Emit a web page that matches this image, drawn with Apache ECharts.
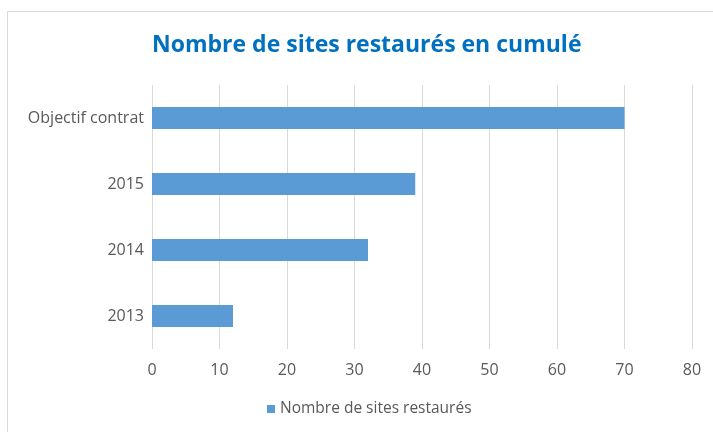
<!DOCTYPE html>
<html>
<head>
<meta charset="utf-8">
<script src="https://cdn.jsdelivr.net/npm/echarts@6/dist/echarts.min.js"></script>
<style>
  html, body { margin: 0; padding: 0; background: #fff; }
  #chart { width: 713px; height: 432px; }
</style>
</head>
<body>
<div id="chart"></div>
<script>
var categories = ['2013', '2014', '2015', 'Objectif contrat'];
var siteValues = [12, 32, 39, 70];
var seriesName = 'Nombre de sites restaurés';
var titleText = 'Nombre de sites restaurés en cumulé';

var myChart = echarts.init(document.getElementById('chart'));

// the chart frame starts at (7,11), so content is centred a bit right of the page centre
var option = {
  backgroundColor: '#fff',
  textStyle: { fontFamily: 'Open Sans, Noto Sans, sans-serif' },
  graphic: [{
    type: 'rect',
    shape: { x: 7.5, y: 11.5, width: 720, height: 440 },
    style: { fill: 'none', stroke: '#d9d9d9', lineWidth: 1 },
    silent: true
  }],
  title: {
    text: titleText,
    left: 147,
    top: 29,
    textStyle: { color: '#0070c0', fontSize: 23, fontWeight: 'bold', fontFamily: 'Open Sans, sans-serif' }
  },
  legend: {
    bottom: 10,
    left: 262,
    itemWidth: 8,
    itemHeight: 8,
    icon: 'rect',
    itemGap: 6,
    textStyle: { color: '#595959', fontSize: 15.5 },
    data: [seriesName]
  },
  grid: {
    left: 152,
    right: 21,
    top: 85,
    bottom: 83,
    containLabel: false
  },
  xAxis: {
    type: 'value',
    min: 0,
    max: 80,
    interval: 10,
    axisLine: { show: false },
    axisTick: { show: false },
    axisLabel: { color: '#595959', fontSize: 16, margin: 13 },
    splitLine: { lineStyle: { color: '#d9d9d9', width: 1 } }
  },
  yAxis: {
    type: 'category',
    data: categories,
    axisLine: { show: false },
    axisTick: { show: false },
    axisLabel: { color: '#595959', fontSize: 16, margin: 8 }
  },
  series: [{
    name: seriesName,
    type: 'bar',
    data: siteValues,
    barWidth: 22,
    itemStyle: { color: '#5b9bd5' }
  }]
};

myChart.setOption(option);
</script>
</body>
</html>
